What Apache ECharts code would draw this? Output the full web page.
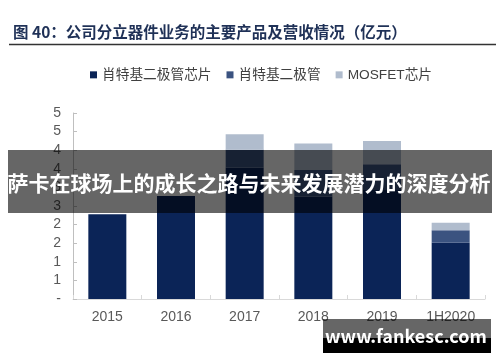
<!DOCTYPE html>
<html>
<head>
<meta charset="utf-8">
<script src="https://cdn.jsdelivr.net/npm/echarts@6/dist/echarts.min.js"></script>
<style>html,body{margin:0;padding:0;background:#fff;}#c{width:500px;height:362px;}</style>
</head>
<body>
<div id="c"></div>
<script>
const categories = ['2015', '2016', '2017', '2018', '2019', '1H2020'];
const seriesNames = ['肖特基二极管芯片', '肖特基二极管', 'MOSFET芯片'];
const schottkyChip = [2.28, 2.77, 3.53, 2.75, 2.93, 1.51];
const schottkyDiode = [0, 0, 0.48, 0.72, 0.69, 0.34];
const mosfetChip = [0, 0, 0.42, 0.71, 0.63, 0.20];
const yTickLabels = ['-', '1', '1', '2', '2', '3', '3', '4', '4', '5', '5'];
const titleText = '图 40：公司分立器件业务的主要产品及营收情况（亿元）';
const bannerText = '萨卡在球场上的成长之路与未来发展潜力的深度分析';
const watermarkText = 'www.fankesc.com';

const colors = ['#0b2457', '#3b5380', '#b0bccd'];
const font = '"Liberation Sans", Arial, "Noto Sans CJK SC", sans-serif';
const cjk = '"Noto Sans CJK SC", "Liberation Sans", sans-serif';

const chart = echarts.init(document.getElementById('c'), null, {renderer: 'canvas'});
const values = [schottkyChip, schottkyDiode, mosfetChip];
chart.setOption({
  animation: false,
  backgroundColor: '#fff',
  color: colors,
  grid: {left: 73, right: 15, top: 113, bottom: 63},
  legend: {
    left: 85, top: 63,
    icon: 'rect', itemWidth: 7, itemHeight: 7, itemGap: 15,
    textStyle: {fontSize: 13.7, color: '#404040', fontFamily: font},
    data: seriesNames
  },
  xAxis: {
    type: 'category',
    data: categories,
    axisLine: {lineStyle: {color: '#d9d9d9', width: 1}},
    axisTick: {show: true, inside: true, length: 4, lineStyle: {color: '#d9d9d9'}},
    axisLabel: {fontSize: 14, color: '#595959', fontFamily: font, margin: 11}
  },
  yAxis: {
    type: 'value',
    min: 0, max: 5, interval: 0.5,
    splitLine: {show: false},
    axisLine: {show: true, lineStyle: {color: '#bfbfbf', width: 1}},
    axisTick: {show: true, inside: true, length: 4, lineStyle: {color: '#bfbfbf'}},
    axisLabel: {
      fontSize: 14, color: '#595959', fontFamily: font, margin: 12,
      formatter: function (v) { const i = Math.round(v / 0.5); return yTickLabels[i] ?? ''; }
    }
  },
  series: seriesNames.map(function (n, k) {
    return {
      name: n, type: 'bar', stack: 'total', barWidth: 38,
      data: values[k],
      itemStyle: {color: colors[k]}
    };
  }),
  graphic: [
    {type: 'text', left: 13, top: 24, style: {text: titleText, font: 'bold 15.5px ' + cjk, fill: '#1f3157'}},
    {type: 'line', shape: {x1: 9, y1: 44.5, x2: 496, y2: 44.5}, style: {stroke: '#333', lineWidth: 1.5}},
    {type: 'rect', shape: {x: 8, y: 150, width: 484, height: 63}, style: {fill: 'rgba(0,0,0,0.6)'}, z: 100},
    {type: 'text', x: 249, y: 183, style: {text: bannerText, font: 'bold 21px ' + cjk, fill: '#fff', align: 'center', verticalAlign: 'middle'}, z: 101},
    {type: 'rect', shape: {x: 323, y: 319, width: 168, height: 19}, style: {fill: 'rgba(0,0,0,0.6)'}, z: 100},
    {type: 'rect', shape: {x: 323, y: 338, width: 168, height: 15}, style: {fill: '#000'}, z: 100},
    {type: 'text', x: 406, y: 336, style: {text: watermarkText, font: 'bold 18px ' + cjk, fill: '#fff', align: 'center', verticalAlign: 'middle'}, z: 101}
  ]
});
</script>
</body>
</html>
